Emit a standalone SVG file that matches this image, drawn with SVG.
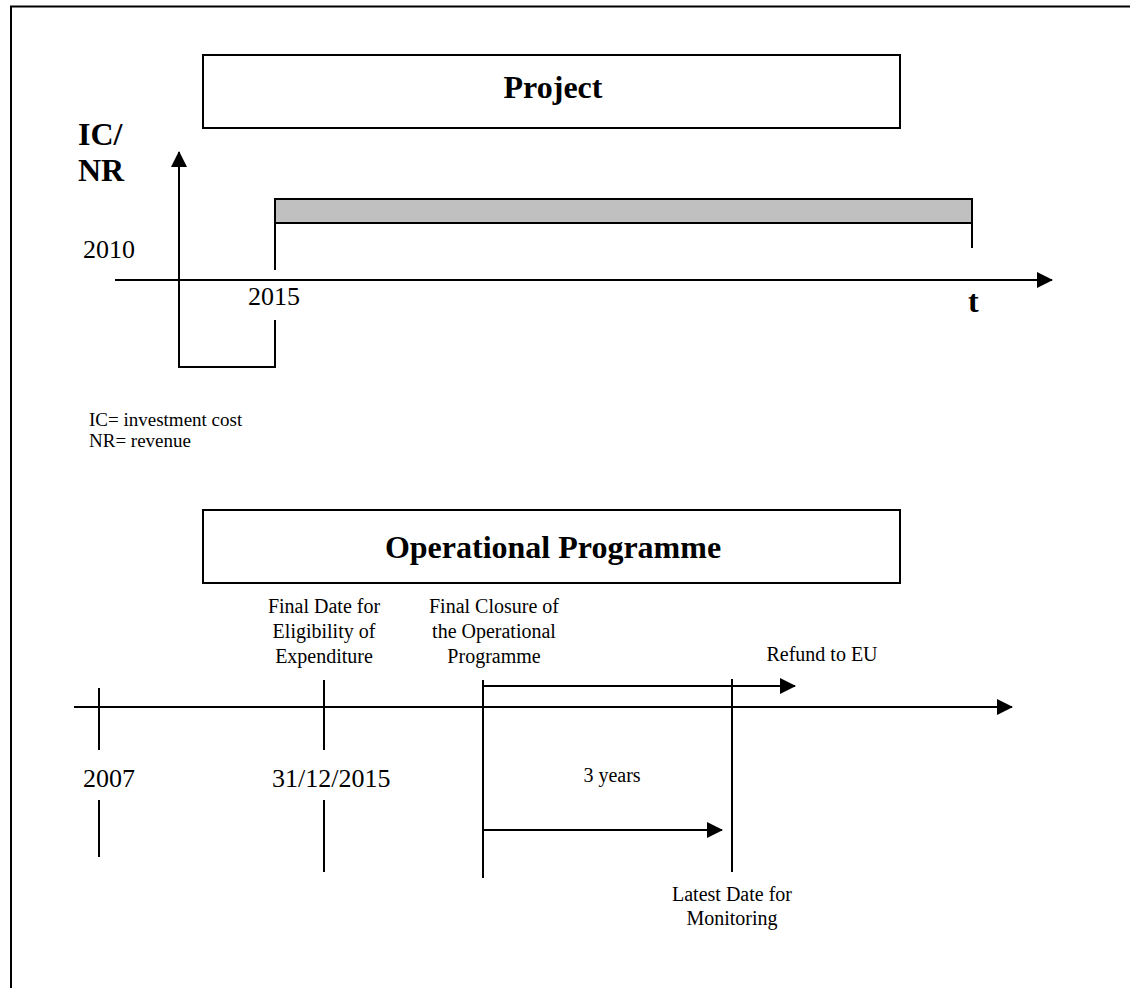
<svg xmlns="http://www.w3.org/2000/svg" width="1130" height="988" viewBox="0 0 1130 988">
<style>
.ln{stroke:#000;stroke-width:2;fill:none}
.box{stroke:#000;stroke-width:2;fill:#fff}
.t{font-family:"Liberation Serif","Times New Roman",serif;fill:#000}
.b{font-weight:bold;font-size:32px}
.y{font-size:26px}
.s{font-size:20px}
.n{font-size:19px}
</style>
<defs>
<marker id="ah" markerWidth="16" markerHeight="16" refX="15" refY="8" orient="auto" markerUnits="userSpaceOnUse">
<path d="M0,0 L16,8 L0,16 Z" fill="#000"/>
</marker>
</defs>
<rect width="1130" height="988" fill="#fff"/>
<path class="ln" d="M11,995 V6.5 H1140"/>

<g id="project">
<rect class="box" x="203" y="55" width="697" height="73"/>
<text class="t b" x="553" y="98" text-anchor="middle">Project</text>
</g>
<g id="axis-label">
<text class="t b" x="78" y="145">IC/</text>
<text class="t b" x="78" y="181">NR</text>
</g>
<g id="project-bar">
<rect x="275" y="199" width="697" height="24" fill="#c0c0c0" stroke="#000" stroke-width="2"/>
</g>
<g id="top-labels">
<text class="t y" x="83" y="258">2010</text>
<text class="t y" x="248" y="305">2015</text>
<text class="t b" x="968" y="312">t</text>
<text class="t n" x="89" y="426">IC= investment cost</text>
<text class="t n" x="89" y="447">NR= revenue</text>
</g>

<g id="op-programme">
<rect class="box" x="203" y="510" width="697" height="73"/>
<text class="t b" x="553" y="558" text-anchor="middle">Operational Programme</text>
</g>
<g id="bottom-labels">
<text class="t s" text-anchor="middle"><tspan x="324" y="613">Final Date for</tspan><tspan x="324" y="638">Eligibility of</tspan><tspan x="324" y="663">Expenditure</tspan></text>
<text class="t s" text-anchor="middle"><tspan x="494" y="613">Final Closure of</tspan><tspan x="494" y="638">the Operational</tspan><tspan x="494" y="663">Programme</tspan></text>
<text class="t s" x="822" y="661" text-anchor="middle">Refund to EU</text>
<text class="t y" x="83" y="787">2007</text>
<text class="t y" x="272" y="787">31/12/2015</text>
<text class="t s" x="612" y="782" text-anchor="middle">3 years</text>
<text class="t s" text-anchor="middle"><tspan x="732" y="901">Latest Date for</tspan><tspan x="732" y="925">Monitoring</tspan></text>
</g>

<g id="connectors">
<!-- top section -->
<line class="ln" x1="115" y1="280" x2="1052" y2="280" marker-end="url(#ah)"/>
<polyline class="ln" points="275,320 275,367 179,367 179,152" marker-end="url(#ah)"/>
<line class="ln" x1="275" y1="223" x2="275" y2="270"/>
<line class="ln" x1="972" y1="223" x2="972" y2="248"/>
<!-- bottom section -->
<line class="ln" x1="74" y1="707" x2="1012" y2="707" marker-end="url(#ah)"/>
<line class="ln" x1="99" y1="688" x2="99" y2="750"/>
<line class="ln" x1="99" y1="800" x2="99" y2="857"/>
<line class="ln" x1="324" y1="680" x2="324" y2="750"/>
<line class="ln" x1="324" y1="800" x2="324" y2="872"/>
<line class="ln" x1="483" y1="680" x2="483" y2="878"/>
<line class="ln" x1="732" y1="679" x2="732" y2="872"/>
<line class="ln" x1="483" y1="686" x2="795" y2="686" marker-end="url(#ah)"/>
<line class="ln" x1="483" y1="830" x2="722" y2="830" marker-end="url(#ah)"/>
</g>
</svg>
